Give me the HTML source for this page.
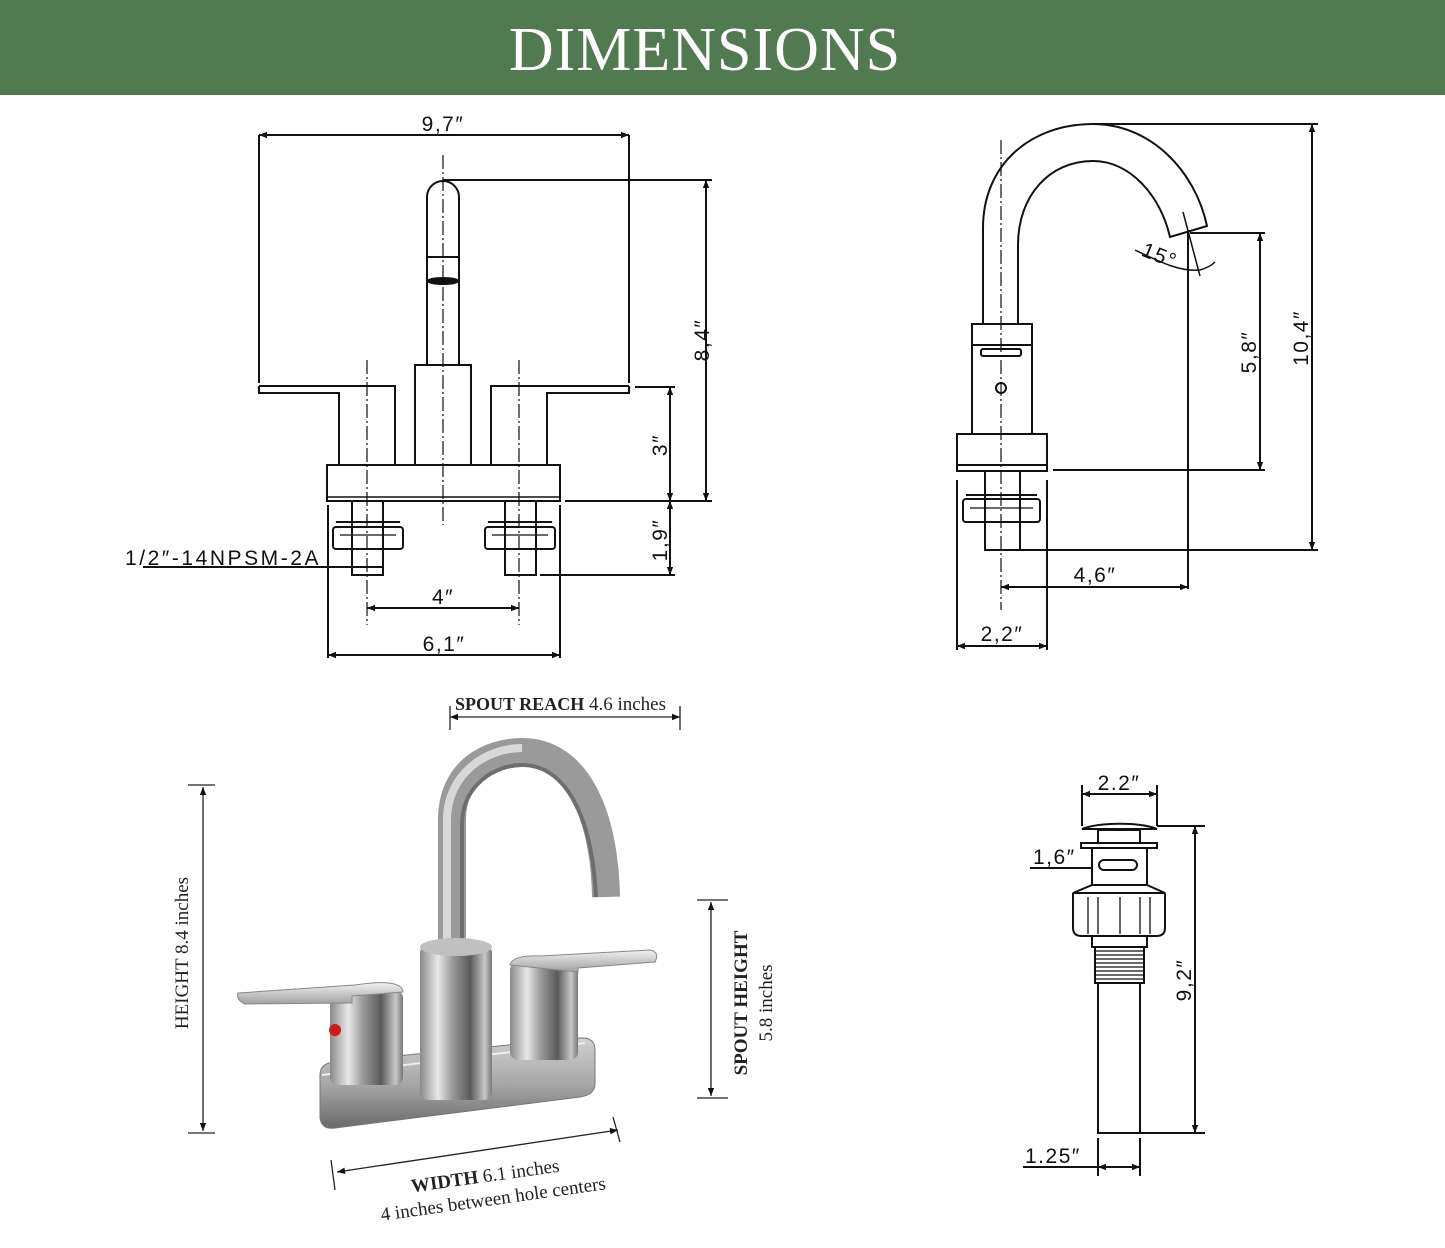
<!DOCTYPE html>
<html><head><meta charset="utf-8"><style>
html,body{margin:0;padding:0;background:#fff}
svg{display:block}
.d{font-family:"Liberation Sans",sans-serif;font-size:21px;fill:#111;letter-spacing:1.5px}
.s{font-family:"Liberation Serif",serif;font-size:19px;fill:#222}
</style></head><body>
<svg width="1445" height="1248" viewBox="0 0 1445 1248" xmlns="http://www.w3.org/2000/svg">
<defs>
<marker id="a" viewBox="0 0 10 10" refX="10" refY="5" markerWidth="10" markerHeight="8" orient="auto-start-reverse" markerUnits="userSpaceOnUse"><path d="M0,1 L10,5 L0,9 z" fill="#111"/></marker>
<linearGradient id="cyl" x1="0" x2="1"><stop offset="0" stop-color="#8a8a8a"/><stop offset=".25" stop-color="#e8e8e8"/><stop offset=".45" stop-color="#9a9a9a"/><stop offset=".7" stop-color="#5a5a5a"/><stop offset=".9" stop-color="#c8c8c8"/><stop offset="1" stop-color="#777"/></linearGradient>
<linearGradient id="base" x1="0" y1="0" x2="0" y2="1"><stop offset="0" stop-color="#d0d0d0"/><stop offset=".5" stop-color="#a8a8a8"/><stop offset="1" stop-color="#6a6a6a"/></linearGradient>
<linearGradient id="lev" x1="0" y1="0" x2="0" y2="1"><stop offset="0" stop-color="#f2f2f2"/><stop offset="1" stop-color="#a0a0a0"/></linearGradient>
</defs>
<rect x="0" y="0" width="1445" height="95" fill="#527a50"/>
<text x="705" y="70" text-anchor="middle" font-family="Liberation Serif,serif" font-size="62" fill="#fff" letter-spacing="1">DIMENSIONS</text>

<!-- FRONT VIEW -->
<g stroke="#111" stroke-width="2" fill="none">
<line x1="259" y1="135" x2="629" y2="135" marker-start="url(#a)" marker-end="url(#a)"/>
<line x1="259" y1="135" x2="259" y2="383"/><line x1="629" y1="135" x2="629" y2="383"/>
<path d="M427,365 L427,197 A16,16 0 0 1 459,197 L459,365"/>
<line x1="427" y1="257" x2="459" y2="257"/>
<ellipse cx="443" cy="281" rx="15" ry="3" fill="#111"/>
<rect x="415" y="365" width="56" height="100"/>
<path d="M259,386 L395,386 L395,465 M259,386 L259,393 L339,393 L339,465"/>
<path d="M629,386 L491,386 L491,465 M629,386 L629,393 L547,393 L547,465"/>
<rect x="327" y="465" width="233" height="36"/>
<line x1="327" y1="497" x2="560" y2="497" stroke-width="1.5"/>
<rect x="352" y="501" width="31" height="74"/>
<rect x="333" y="527" width="70" height="22" rx="3"/><line x1="336" y1="522" x2="400" y2="522"/><line x1="340" y1="535" x2="396" y2="535" stroke-width="1.2"/>
<rect x="505" y="501" width="31" height="74"/>
<rect x="485" y="527" width="70" height="22" rx="3"/><line x1="488" y1="522" x2="552" y2="522"/><line x1="492" y1="535" x2="548" y2="535" stroke-width="1.2"/>
<g stroke-width="1.2" stroke-dasharray="14,3,2,3"><line x1="443" y1="155" x2="443" y2="525"/><line x1="367" y1="360" x2="367" y2="625"/><line x1="519" y1="360" x2="519" y2="625"/></g>
<line x1="443" y1="180" x2="712" y2="180"/><line x1="565" y1="501" x2="712" y2="501"/>
<line x1="706" y1="180" x2="706" y2="501" marker-start="url(#a)" marker-end="url(#a)"/>
<line x1="635" y1="387" x2="675" y2="387"/>
<line x1="670" y1="387" x2="670" y2="501" marker-start="url(#a)" marker-end="url(#a)"/>
<line x1="670" y1="501" x2="670" y2="575" marker-start="url(#a)" marker-end="url(#a)"/>
<line x1="540" y1="575" x2="675" y2="575"/>
<line x1="367" y1="608" x2="519" y2="608" marker-start="url(#a)" marker-end="url(#a)"/>
<line x1="328" y1="505" x2="328" y2="658"/><line x1="560" y1="505" x2="560" y2="658"/>
<line x1="328" y1="655" x2="560" y2="655" marker-start="url(#a)" marker-end="url(#a)"/>
<line x1="143" y1="567" x2="383" y2="567"/>
</g>
<text class="d" x="443" y="131" text-anchor="middle">9,7″</text>
<text class="d" x="443" y="604" text-anchor="middle">4″</text>
<text class="d" x="444" y="651" text-anchor="middle">6,1″</text>
<text class="d" x="125" y="565" textLength="195">1/2″-14NPSM-2A</text>
<text class="d" transform="translate(709,340) rotate(-90)" text-anchor="middle">8,4″</text>
<text class="d" transform="translate(667,445) rotate(-90)" text-anchor="middle">3″</text>
<text class="d" transform="translate(667,540) rotate(-90)" text-anchor="middle">1,9″</text>

<!-- SIDE VIEW -->
<g stroke="#111" stroke-width="2" fill="none">
<path d="M983,324 L983,228 C983,165 1030,124 1093,124 C1150,124 1195,170 1207,226 L1170,237 C1160,195 1130,161 1093,161 C1050,161 1018,195 1018,245 L1018,324"/>
<rect x="972" y="324" width="60" height="110"/>
<line x1="972" y1="345" x2="1032" y2="345"/>
<rect x="981" y="349" width="40" height="7" rx="2"/>
<circle cx="1001" cy="388" r="5"/>
<rect x="957" y="434" width="90" height="37"/>
<line x1="957" y1="465" x2="1047" y2="465"/>
<rect x="985" y="471" width="35" height="79"/>
<rect x="963" y="499" width="77" height="23" rx="3"/><line x1="966" y1="495" x2="1037" y2="495"/><line x1="970" y1="508" x2="1033" y2="508" stroke-width="1.2"/>
<line x1="1001" y1="140" x2="1001" y2="610" stroke-width="1.2" stroke-dasharray="14,3,2,3"/>
<line x1="1183" y1="212" x2="1200" y2="276" stroke-width="1.5"/>
<path d="M1135,250 C1160,262 1180,272 1200,270 C1207,268 1212,265 1215,262" stroke-width="1.5"/>
<line x1="1188" y1="230" x2="1188" y2="589"/>
<line x1="1190" y1="233" x2="1265" y2="233"/><line x1="1053" y1="470" x2="1265" y2="470"/>
<line x1="1260" y1="233" x2="1260" y2="470" marker-start="url(#a)" marker-end="url(#a)"/>
<line x1="1093" y1="124" x2="1318" y2="124"/><line x1="1000" y1="550" x2="1318" y2="550"/>
<line x1="1312" y1="124" x2="1312" y2="550" marker-start="url(#a)" marker-end="url(#a)"/>
<line x1="1001" y1="587" x2="1188" y2="587" marker-start="url(#a)" marker-end="url(#a)"/>
<line x1="957" y1="480" x2="957" y2="650"/><line x1="1047" y1="480" x2="1047" y2="650"/>
<line x1="957" y1="646" x2="1047" y2="646" marker-start="url(#a)" marker-end="url(#a)"/>
</g>
<text class="d" transform="translate(1157,262) rotate(22)" text-anchor="middle">15°</text>
<text class="d" x="1095" y="582" text-anchor="middle">4,6″</text>
<text class="d" x="1002" y="641" text-anchor="middle">2,2″</text>
<text class="d" transform="translate(1256,352) rotate(-90)" text-anchor="middle">5,8″</text>
<text class="d" transform="translate(1308,338) rotate(-90)" text-anchor="middle">10,4″</text>

<!-- DRAIN -->
<g stroke="#111" stroke-width="2" fill="none">
<line x1="1082" y1="785" x2="1082" y2="826"/><line x1="1157" y1="785" x2="1157" y2="826"/>
<line x1="1082" y1="794" x2="1157" y2="794" marker-start="url(#a)" marker-end="url(#a)"/>
<path d="M1082,829 C1100,822 1140,822 1157,829 Z"/>
<rect x="1098" y="830" width="42" height="13"/>
<rect x="1081" y="843" width="76" height="5"/>
<rect x="1092" y="848" width="55" height="37"/>
<rect x="1099" y="860" width="38" height="10" rx="5"/>
<path d="M1092,885 L1073,893 L1165,893 L1147,885"/>
<path d="M1073,893 L1073,928 Q1073,936 1082,936 L1156,936 Q1165,936 1165,928 L1165,893"/>
<g stroke-width="1.3"><line x1="1088" y1="897" x2="1088" y2="934"/><line x1="1098" y1="897" x2="1098" y2="934"/><line x1="1120" y1="897" x2="1120" y2="934"/><line x1="1140" y1="897" x2="1140" y2="934"/><line x1="1150" y1="897" x2="1150" y2="934"/></g>
<rect x="1092" y="936" width="55" height="11"/>
<rect x="1095" y="947" width="49" height="36"/>
<g stroke-width="1.2">
<line x1="1095" y1="951" x2="1144" y2="951"/><line x1="1095" y1="955" x2="1144" y2="955"/><line x1="1095" y1="959" x2="1144" y2="959"/><line x1="1095" y1="963" x2="1144" y2="963"/><line x1="1095" y1="967" x2="1144" y2="967"/><line x1="1095" y1="971" x2="1144" y2="971"/><line x1="1095" y1="975" x2="1144" y2="975"/><line x1="1095" y1="979" x2="1144" y2="979"/></g>
<rect x="1098" y="983" width="42" height="150"/>
<line x1="1157" y1="826" x2="1205" y2="826"/><line x1="1122" y1="1133" x2="1205" y2="1133"/>
<line x1="1195" y1="826" x2="1195" y2="1133" marker-start="url(#a)" marker-end="url(#a)"/>
<line x1="1030" y1="868" x2="1092" y2="868"/>
<line x1="1098" y1="1138" x2="1098" y2="1176"/><line x1="1140" y1="1138" x2="1140" y2="1176"/>
<line x1="1023" y1="1167" x2="1098" y2="1167"/>
<line x1="1098" y1="1167" x2="1140" y2="1167" marker-start="url(#a)" marker-end="url(#a)"/>
</g>
<text class="d" x="1119" y="790" text-anchor="middle" font-size="19">2.2″</text>
<text class="d" x="1033" y="864" font-size="19">1,6″</text>
<text class="d" x="1025" y="1163" font-size="19">1.25″</text>
<text class="d" transform="translate(1191,980) rotate(-90)" text-anchor="middle">9,2″</text>

<!-- PHOTO -->
<g stroke="#222" stroke-width="1.3" fill="none">
<line x1="450" y1="717" x2="680" y2="717" marker-start="url(#a)" marker-end="url(#a)"/>
<line x1="450" y1="706" x2="450" y2="730"/><line x1="680" y1="706" x2="680" y2="730"/>
<line x1="203" y1="787" x2="203" y2="1131" marker-start="url(#a)" marker-end="url(#a)"/>
<line x1="188" y1="785" x2="215" y2="785"/><line x1="188" y1="1133" x2="215" y2="1133"/>
<line x1="711" y1="902" x2="711" y2="1096" marker-start="url(#a)" marker-end="url(#a)"/>
<line x1="697" y1="900" x2="728" y2="900"/><line x1="697" y1="1098" x2="728" y2="1098"/>
<line x1="337" y1="1172" x2="618" y2="1130" marker-start="url(#a)" marker-end="url(#a)"/>
<line x1="331" y1="1160" x2="335" y2="1190"/><line x1="613" y1="1117" x2="620" y2="1142"/>
</g>
<text class="s" x="455" y="710"><tspan font-weight="bold" font-size="18">SPOUT REACH</tspan> 4.6 inches</text>
<text class="s" transform="translate(188,953) rotate(-90)" text-anchor="middle">HEIGHT 8.4 inches</text>
<text class="s" transform="translate(747,1003) rotate(-90)" text-anchor="middle"><tspan font-weight="bold">SPOUT HEIGHT</tspan></text>
<text class="s" transform="translate(772,1003) rotate(-90)" text-anchor="middle">5.8 inches</text>
<text class="s" transform="translate(486,1182) rotate(-8)" text-anchor="middle"><tspan font-weight="bold">WIDTH</tspan> 6.1 inches</text>
<text class="s" transform="translate(494,1205) rotate(-8)" text-anchor="middle">4 inches between hole centers</text>

<!-- faucet illustration -->
<path d="M320,1075 Q320,1063 335,1062 L580,1038 Q595,1037 595,1050 L595,1085 Q594,1095 580,1097 L335,1128 Q322,1130 320,1118 Z" fill="url(#base)" stroke="#777" stroke-width="1"/>
<path d="M322,1075 L585,1043" stroke="#eee" stroke-width="2"/>
<path d="M452,945 L452,820 C452,770 490,752 522,752 C575,752 604,810 606,897" stroke="#9a9a9a" stroke-width="28" fill="none"/>
<path d="M447,945 L447,820 C447,775 485,748 522,748" stroke="#d8d8d8" stroke-width="8" fill="none"/>
<path d="M462,945 L462,825 C462,785 495,765 522,765 C565,765 592,815 596,897" stroke="#6e6e6e" stroke-width="4" fill="none"/>
<rect x="420" y="945" width="72" height="155" rx="8" fill="url(#cyl)"/>
<ellipse cx="456" cy="947" rx="36" ry="9" fill="#c0c0c0"/>
<rect x="330" y="990" width="73" height="95" rx="8" fill="url(#cyl)"/>
<rect x="510" y="962" width="68" height="98" rx="8" fill="url(#cyl)"/>
<path d="M238,993 L355,985 Q402,978 403,992 L352,996 L352,1003 L245,1004 Q236,1000 238,993 Z" fill="url(#lev)" stroke="#888" stroke-width="1"/>
<path d="M510,965 Q512,955 540,956 L650,950 Q660,952 655,962 L578,968 L578,972 Z" fill="url(#lev)" stroke="#888" stroke-width="1"/>
<circle cx="335" cy="1030" r="6" fill="#d01818"/>
</svg>
</body></html>
